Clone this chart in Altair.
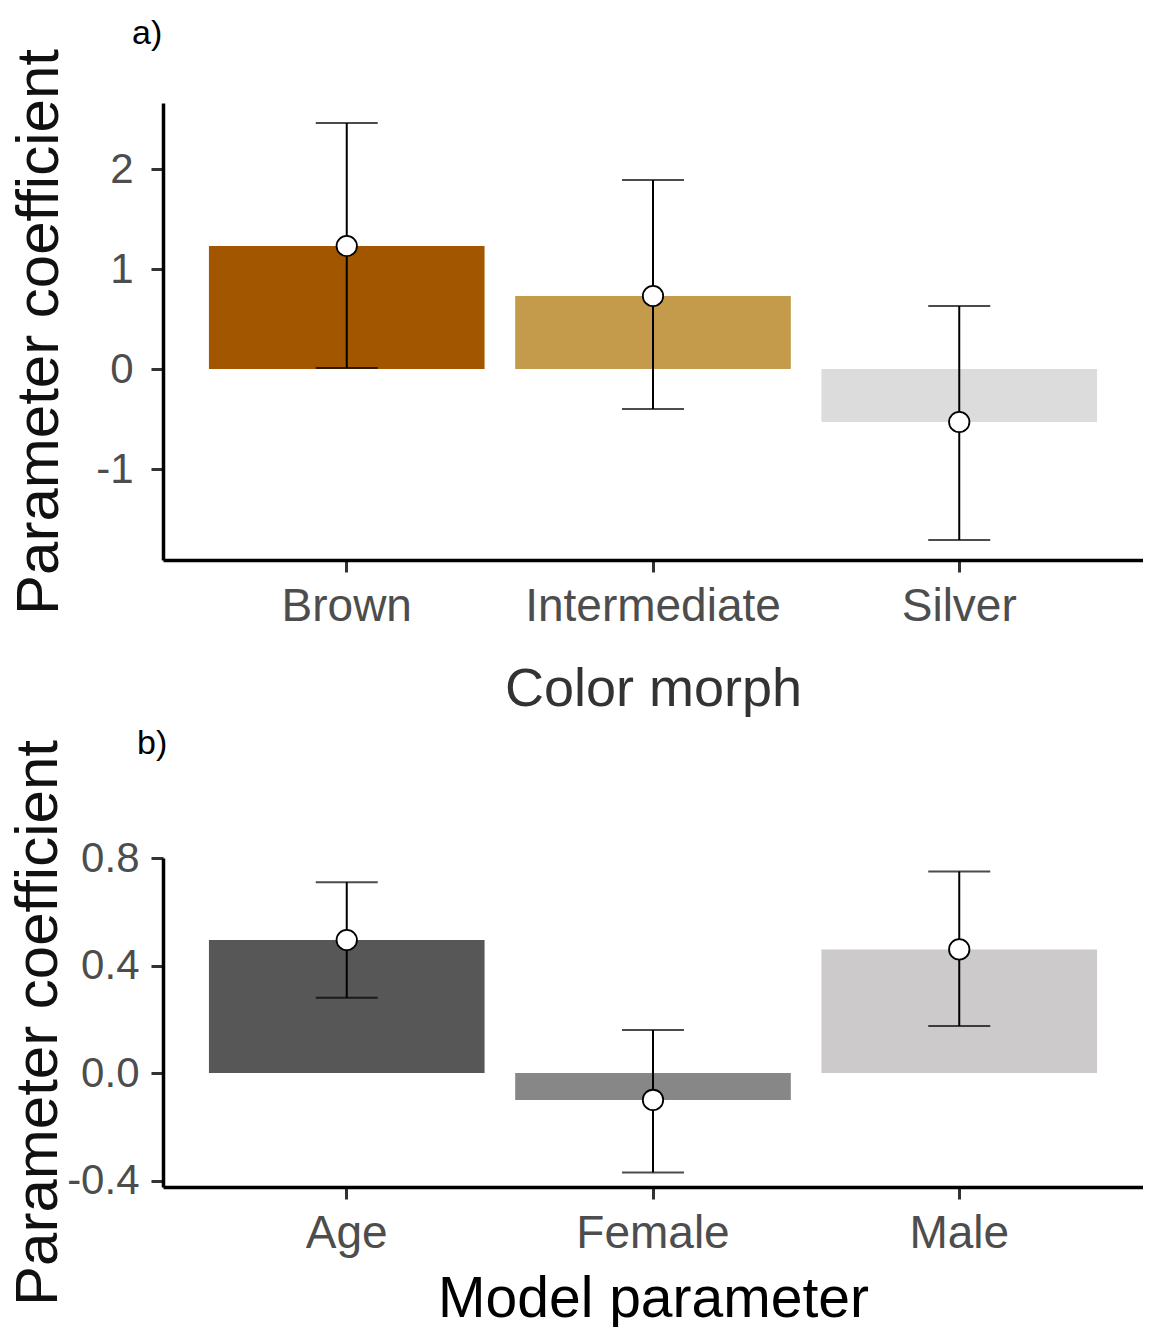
import altair as alt
import pandas as pd

# Panel a: colour morph coefficients
morphs = ["Brown", "Intermediate", "Silver"]
morph_est = [1.23, 0.73, -0.53]
morph_lo = [0.01, -0.40, -1.71]
morph_hi = [2.46, 1.89, 0.63]
morph_colors = ["#A35600", "#C49B4A", "#DCDCDC"]

# Panel b: model parameter coefficients
params = ["Age", "Female", "Male"]
param_est = [0.495, -0.10, 0.46]
param_lo = [0.28, -0.37, 0.175]
param_hi = [0.71, 0.16, 0.75]
param_colors = ["#575757", "#878787", "#CCCACA"]

FONT = "Liberation Sans"


def panel(field, cats, est, lo, hi, colors, ydomain, yticks, fmt, tag, xtitle,
          xtitle_size, xtitle_color, xtitle_pad, ytitle_pad, ylabel_pad,
          tag_dx, tag_offset, width, height):
    df = pd.DataFrame({field: cats, "est": est, "lo": lo, "hi": hi})
    neg = "datum.value < 0 ? '-' + format(-datum.value, '%s') : format(datum.value, '%s')" % (fmt, fmt)
    xf = field + ":N"
    x = alt.X(xf, sort=cats,
              scale=alt.Scale(paddingInner=0.1, paddingOuter=0.15),
              axis=alt.Axis(title=xtitle, labelAngle=0, labelFontSize=46,
                            labelColor="#4D4D4D", labelFont=FONT, labelPadding=12,
                            labelLimit=600,
                            titleFont=FONT, titleFontSize=xtitle_size,
                            titleColor=xtitle_color, titleFontWeight="normal",
                            titlePadding=xtitle_pad, tickSize=12, tickWidth=3,
                            tickColor="#333333", domainColor="#000000",
                            domainWidth=3.5))
    yscale = alt.Scale(domain=ydomain, nice=False, zero=False)
    yaxis = alt.Axis(title="Parameter coefficient", values=yticks, labelExpr=neg,
                     labelFontSize=42, labelColor="#4D4D4D", labelFont=FONT,
                     labelPadding=ylabel_pad, titleFont=FONT, titleFontSize=60,
                     titleColor="#111111", titleFontWeight="normal",
                     titlePadding=ytitle_pad, minExtent=80, maxExtent=80,
                     tickSize=12, tickWidth=3, tickColor="#333333",
                     domainColor="#000000", domainWidth=3.5, grid=False)
    base = alt.Chart(df)
    bars = base.mark_bar().encode(
        x=x,
        y=alt.Y("est:Q", scale=yscale, axis=yaxis),
        color=alt.Color(xf, scale=alt.Scale(domain=cats, range=colors), legend=None),
    )
    rule = base.mark_rule(color="#000000", strokeWidth=2).encode(
        x=alt.X(xf, sort=cats), y="lo:Q", y2="hi:Q")
    tick_lo = base.mark_tick(color="#000000", size=62, thickness=2).encode(
        x=alt.X(xf, sort=cats), y="lo:Q")
    tick_hi = base.mark_tick(color="#000000", size=62, thickness=2).encode(
        x=alt.X(xf, sort=cats), y="hi:Q")
    pts = base.mark_point(filled=True, fill="#FFFFFF", stroke="#000000",
                          strokeWidth=1.8, size=415, opacity=1).encode(
        x=alt.X(xf, sort=cats), y="est:Q")
    return alt.layer(bars, rule, tick_lo, tick_hi, pts).properties(
        width=width, height=height,
        title=alt.TitleParams(tag, anchor="start", frame="group", fontSize=34,
                              font=FONT, fontWeight="normal", color="#000000",
                              dx=tag_dx, offset=tag_offset),
    )


a = panel("morph", morphs, morph_est, morph_lo, morph_hi, morph_colors,
          [-1.91, 2.66], [-1, 0, 1, 2], "d", "a)", "Color morph", 54,
          "#333333", 33, 13, 18, -31, -2, 980, 457)
b = panel("param", params, param_est, param_lo, param_hi, param_colors,
          [-0.424, 0.8], [-0.4, 0.0, 0.4, 0.8], ".1f", "b)", "Model parameter", 57,
          "#000000", 15, 14, 12, -26, -21, 980, 329)

chart = alt.concat(a, b, columns=1, spacing=10).resolve_scale(
    color="independent"
).properties(
    padding={"left": 0, "top": 8, "right": 0, "bottom": 0},
    background="#FFFFFF",
).configure_view(stroke=None)

chart.save("out.html", embed_options={"renderer": "svg", "actions": False})
